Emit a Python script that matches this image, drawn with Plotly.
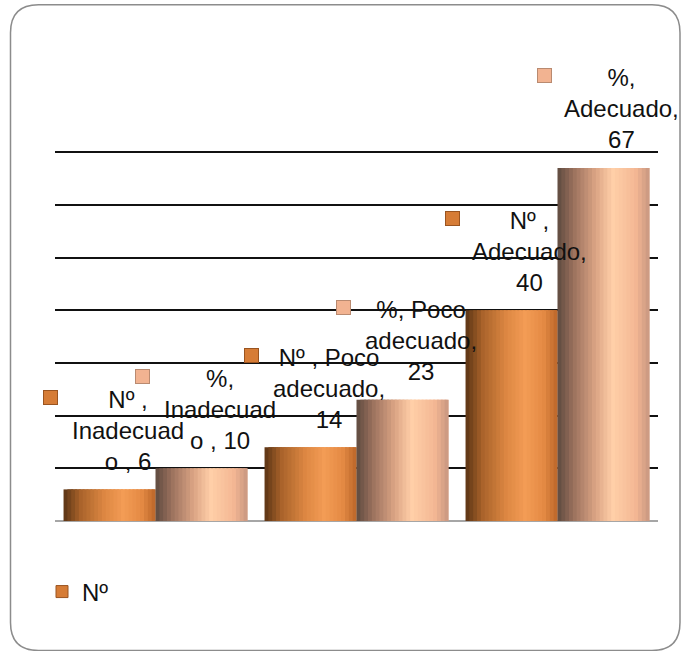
import plotly.graph_objects as go

# ---------------- data ----------------
categories = ["Inadecuado", "Poco adecuado", "Adecuado"]
series_names = ["Nº", "%"]
values_n = [6, 14, 40]
values_pct = [10, 23, 67]
labels_n = ["Nº ,<br>Inadecuad<br>o , 6", "Nº , Poco<br>adecuado,<br>14", "Nº ,<br>Adecuado,<br>40"]
labels_pct = ["%,<br>Inadecuad<br>o , 10", "%, Poco<br>adecuado,<br>23", "%,<br>Adecuado,<br>67"]
y_max_grid = 70
y_top = 70.6

# ---------------- style ----------------
W, H = 681, 651
PLOT_L, PLOT_R, PLOT_BASE, PLOT_TOP70 = 55, 658, 521, 152
unit_px = (PLOT_BASE - PLOT_TOP70) / y_max_grid
ML, MR, MB = PLOT_L, W - PLOT_R, H - PLOT_BASE
MT = PLOT_BASE - y_top * unit_px
FONT = "Liberation Sans, Arial, sans-serif"
FS = 24
BARGAP = 0.085
HALF = (1 - BARGAP) / 2  # width of one bar in category units

grad_n = [(0.0, "#5a3414"), (0.18, "#a8622a"), (0.45, "#de8843"),
          (0.65, "#f39c55"), (0.85, "#e48a44"), (1.0, "#bb6629")]
grad_p = [(0.0, "#5e4a40"), (0.18, "#9c725e"), (0.42, "#dca585"),
          (0.6, "#ffcfa8"), (0.85, "#f4b794"), (1.0, "#c89680")]
key_n, key_n_border = "#d67c36", "#9a5420"
key_p, key_p_border = "#f2b391", "#b98a70"


def hex2rgb(h):
    h = h.lstrip("#")
    return [int(h[i:i + 2], 16) for i in (0, 2, 4)]


def sample(stops, t):
    for (t0, c0), (t1, c1) in zip(stops, stops[1:]):
        if t0 <= t <= t1:
            f = (t - t0) / (t1 - t0) if t1 > t0 else 0
            a, b = hex2rgb(c0), hex2rgb(c1)
            return "rgb(%d,%d,%d)" % tuple(round(a[i] + (b[i] - a[i]) * f) for i in range(3))
    return stops[-1][1]


fig = go.Figure()
NSL = 24
for vals, name, stops, start in [(values_n, series_names[0], grad_n, -HALF),
                                 (values_pct, series_names[1], grad_p, 0.0)]:
    w = HALF / NSL
    for k in range(NSL):
        t = (k + 0.5) / NSL
        width = w * 2.5 if k < NSL - 1 else w
        width = min(width, HALF - k * w)
        fig.add_trace(go.Bar(
            x=categories, y=vals, name=name,
            offset=start + k * w, width=width,
            marker=dict(color=sample(stops, t), line=dict(width=0)),
            showlegend=False, hoverinfo="skip",
        ))

# legend entry (only "Nº" is visible in the reference)
fig.add_trace(go.Bar(x=[None], y=[None], name=series_names[0],
                     marker=dict(color=key_n, line=dict(color=key_n_border, width=1)),
                     showlegend=True))

# data labels with legend keys
LABEL_DX = 18      # text centre offset from bar centre (px)
BAR_HALF_PX = 46   # half a bar in px
for vals, labs, sign, kc, kb in [(values_n, labels_n, -1, key_n, key_n_border),
                                 (values_pct, labels_pct, 1, key_p, key_p_border)]:
    for c, v, lab in zip(categories, vals, labs):
        xs = sign * BAR_HALF_PX + LABEL_DX
        fig.add_annotation(x=c, y=v, xref="x", yref="y", text=lab, showarrow=False,
                           xshift=xs, yshift=59, yanchor="middle", xanchor="center",
                           align="center", font=dict(family=FONT, size=FS, color="#111"))
        fig.add_annotation(x=c, y=v, xref="x", yref="y", text="", showarrow=False,
                           xshift=xs - 77, yshift=92, yanchor="middle", xanchor="center",
                           width=13, height=13, bgcolor=kc, bordercolor=kb, borderwidth=1,
                           borderpad=0)

# rounded outer border
pw, ph = W - ML - MR, H - MT - MB


def px(x):
    return (x - ML) / pw


def py(y):
    return (H - MB - y) / ph


L, T, R, B, r = 10.5, 4.5, 680.0, 650.5, 28
path = (f"M {px(L + r)},{py(T)} L {px(R - r)},{py(T)} Q {px(R)},{py(T)} {px(R)},{py(T + r)} "
        f"L {px(R)},{py(B - r)} Q {px(R)},{py(B)} {px(R - r)},{py(B)} "
        f"L {px(L + r)},{py(B)} Q {px(L)},{py(B)} {px(L)},{py(B - r)} "
        f"L {px(L)},{py(T + r)} Q {px(L)},{py(T)} {px(L + r)},{py(T)} Z")
fig.add_shape(type="path", path=path, xref="paper", yref="paper",
              line=dict(color="#8c8c8c", width=1.5), layer="above")

fig.update_layout(
    width=W, height=H,
    margin=dict(l=ML, r=MR, t=MT, b=MB),
    paper_bgcolor="white", plot_bgcolor="white",
    barmode="overlay", bargap=BARGAP,
    font=dict(family=FONT, size=FS, color="#111"),
    xaxis=dict(showticklabels=False, showgrid=False, zeroline=False, showline=False,
               ticks="", range=[-0.5, 2.5]),
    yaxis=dict(range=[0, y_top], tick0=0, dtick=10, showticklabels=False, ticks="",
               showgrid=True, gridcolor="#111111", gridwidth=2,
               zeroline=True, zerolinecolor="#a6a6a6", zerolinewidth=2, showline=False),
    legend=dict(x=px(42), y=py(592), xref="paper", yref="paper", xanchor="left",
                yanchor="middle", bgcolor="rgba(0,0,0,0)", borderwidth=0,
                font=dict(family=FONT, size=FS, color="#111"), itemwidth=30),
    showlegend=True,
)

fig.write_html("out.html")
